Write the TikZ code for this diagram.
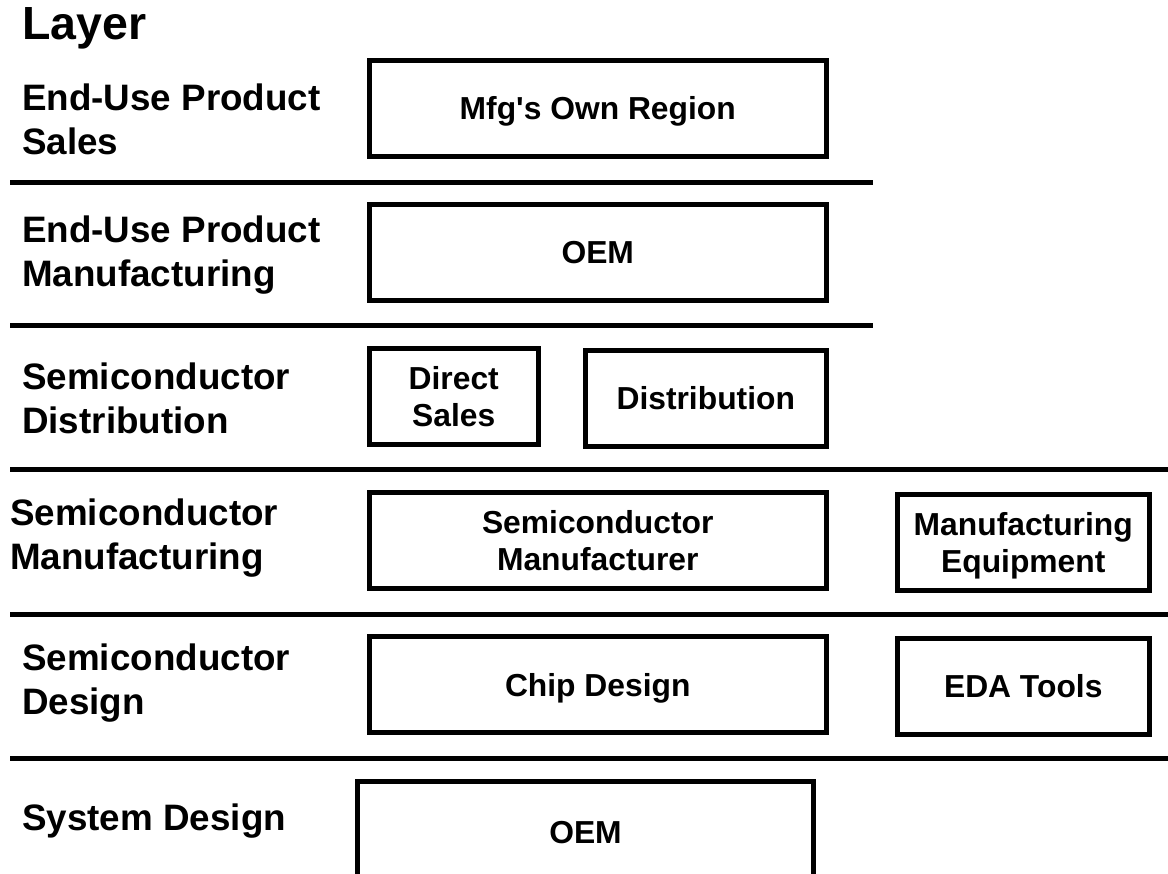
\documentclass[tikz,border=0pt]{standalone}
\usepackage{fontspec}
\setmainfont{Liberation Sans}
\usetikzlibrary{positioning}

\begin{document}
\begin{tikzpicture}[
            x=1pt, y=-1pt,
            layer/.style={anchor=base west, align=left, inner sep=0pt, font=\fontsize{36.8}{44}\selectfont\bfseries},
            box/.style={draw, line width=5pt, minimum width=456.5pt, minimum height=96pt, inner sep=0pt, text depth=0pt, align=center, font=\fontsize{31.8}{37}\selectfont\bfseries},
            sep/.style={line width=5pt}
  ]

  \useasboundingbox (0,0) rectangle (1168,874);
  \clip (0,0) rectangle (1168,874);

  \node[anchor=base west, inner sep=0pt, font=\fontsize{46.5}{50}\selectfont\bfseries] (title) at (22,40) {Layer};

  % layer names, left column (base = last line)
  \node[layer] (lsales) at (22,155) {End-Use Product\\Sales};
  \node[layer] (lmfg) at (22,287) {End-Use Product\\Manufacturing};
  \node[layer] (ldist) at (22,434) {Semiconductor\\Distribution};
  \node[layer] (lsemi) at (10,569) {Semiconductor\\Manufacturing};
  \node[layer] (ldesign) at (22,714) {Semiconductor\\Design};
  \node[layer] (lsys) at (22,830) {System Design};

  % separators between layers
  \draw[sep] (10,182.5) -- (873,182.5);
  \draw[sep] (10,325.5) -- (873,325.5);
  \draw[sep] (10,469.5) -- (1168,469.5);
  \draw[sep] (10,614) -- (1168,614);
  \draw[sep] (10,758) -- (1168,758);

  % boxes
  \node[box] (own) at (597.75,108.25) {Mfg\textquotesingle s Own Region};
  \node[box] (oem) at (597.75,252.5) {OEM};
  \node[box, minimum width=168.5pt] (direct) at (453.75,396.5) {Direct\\Sales};
  \node[box, minimum width=240.5pt] (dist) at (705.75,398.25) {Distribution};
  \node[box] (semi) at (597.75,540.5) {Semiconductor\\Manufacturer};
  \node[box, minimum width=251.5pt] (equip) at (1023.25,542.25) {Manufacturing\\Equipment};
  \node[box] (chip) at (597.75,684.75) {Chip Design};
  \node[box, minimum width=251.5pt] (eda) at (1023.25,686.25) {EDA Tools};
  \node[box, minimum width=456pt, minimum height=101pt] (sysoem) at (585.5,832) {OEM};

\end{tikzpicture}
\end{document}
